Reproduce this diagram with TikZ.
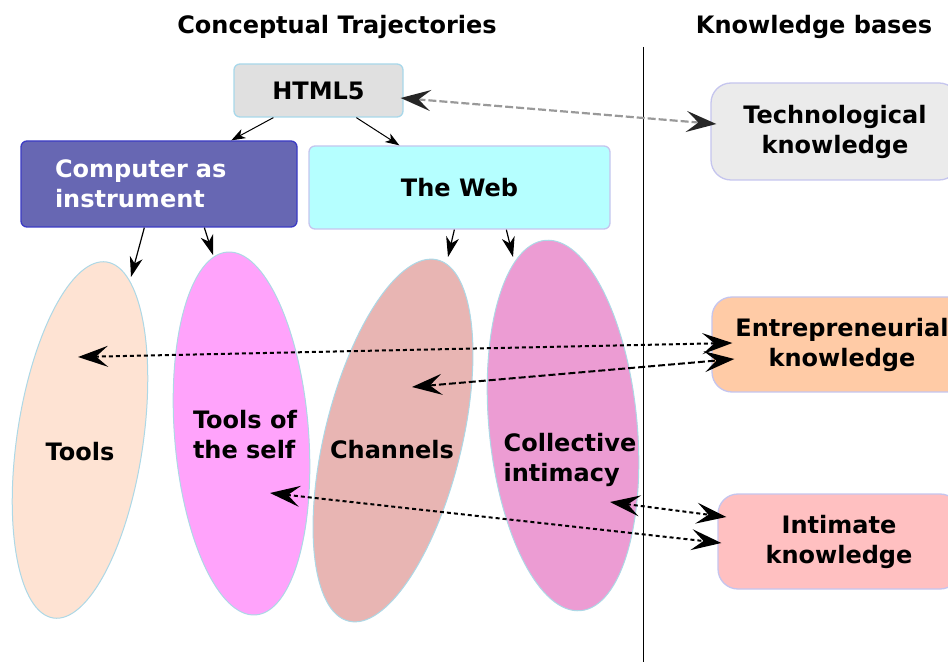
\documentclass[tikz,border=0pt]{standalone}
\usepackage{fontspec}
\setmainfont{DejaVu Sans}
\usetikzlibrary{arrows.meta,calc,shapes.geometric}
\definecolor{htmlfill}{HTML}{E0E0E0}
\definecolor{htmlborder}{HTML}{A8D8EA}
\definecolor{compfill}{HTML}{6767B3}
\definecolor{compborder}{HTML}{3B3BC4}
\definecolor{webfill}{HTML}{B5FFFF}
\definecolor{lavender}{HTML}{C5C5EE}
\definecolor{techfill}{HTML}{EBEBEB}
\definecolor{entrefill}{HTML}{FFCBA6}
\definecolor{intimfill}{HTML}{FFC0C1}
\definecolor{toolsfill}{HTML}{FEE3D3}
\definecolor{selffill}{HTML}{FFA3FB}
\definecolor{chanfill}{HTML}{E8B5B3}
\definecolor{collfill}{HTML}{EC9CD3}
\definecolor{ovalborder}{HTML}{ADD8E6}
\definecolor{grayarrow}{HTML}{999999}
\begin{document}
\begin{tikzpicture}[x=1pt,y=1pt,
  txt/.style={font=\fontsize{24}{30}\selectfont\bfseries},
  box/.style={draw, line width=1.3pt, rounded corners=6pt, txt, inner sep=0pt, align=center},
  kbox/.style={draw=lavender, line width=1.3pt, rounded corners=20pt, txt, inner sep=0pt, align=center},
  oval/.style={ellipse, draw=ovalborder, line width=1pt, inner sep=0pt},
  lbl/.style={txt, align=left, inner sep=0pt},
  solidarr/.style={-{Stealth[length=20pt,width=13pt,inset=6pt]}, line width=1.2pt},
  smallarr/.style={-{Stealth[length=14pt,width=10pt,inset=4pt]}, line width=1pt},
  kdash/.style={{Stealth[length=30pt,width=21pt,inset=12pt]}-{Stealth[length=30pt,width=21pt,inset=12pt]}, line width=2pt, dash pattern=on 4pt off 3pt},
  graydash/.style={{Stealth[length=30pt,width=21pt,inset=12pt,color=black!85]}-{Stealth[length=30pt,width=21pt,inset=12pt,color=black!85]}, draw=grayarrow, line width=2.2pt, dash pattern=on 8pt off 3pt}
]
\useasboundingbox (0,0) rectangle (948,662);
\clip (0,0) rectangle (948,662);

% titles
\node[txt, anchor=base] (title1) at (337,628) {Conceptual Trajectories};
\node[txt, anchor=base] (title2) at (814,628) {Knowledge bases};

% separator
\draw[line width=1pt] (643,615) -- (643,0);

% ellipses
\node[oval, fill=toolsfill, rotate=-8.5, minimum width=126pt, minimum height=360pt] (tools) at (80,222) {};
\node[oval, fill=selffill, rotate=4.5, minimum width=134pt, minimum height=364pt] (self) at (241.5,228.5) {};
\node[oval, fill=chanfill, rotate=-13.8, minimum width=137pt, minimum height=372pt] (chan) at (393,221.5) {};
\node[oval, fill=collfill, rotate=5.5, minimum width=148pt, minimum height=372pt] (coll) at (563,236.5) {};

\node[lbl] (toolsT) at (80,210) {Tools};
\node[lbl] (selfT) at (245,227) {Tools of\\the self};
\node[lbl] (chanT) at (392,212) {Channels};
\node[lbl] (collT) at (570,202) {Collective\\intimacy};

% boxes
\node[box, draw=htmlborder, fill=htmlfill, minimum width=169pt, minimum height=53pt] (html) at (318.5,571.5) {HTML5};
\node[box, draw=compborder, fill=compfill, text=white, minimum width=276pt, minimum height=86pt,
      text width=208pt, inner xsep=34pt, align=left] (comp) at (159,478) {Computer as\\instrument};
\node[box, draw=lavender, fill=webfill, minimum width=301pt, minimum height=83pt] (web) at (459.5,474.5) {The Web};

\node[kbox, fill=techfill, minimum width=248pt, minimum height=97pt] (tech) at (835,530.5) {Technological\\knowledge};
\node[kbox, fill=entrefill, minimum width=260pt, minimum height=95pt] (entre) at (842,317.5) {Entrepreneurial\\knowledge};
\node[kbox, fill=intimfill, minimum width=242pt, minimum height=95pt] (intim) at (839,120.5) {Intimate\\knowledge};

% solid arrows
\draw[smallarr] ($(html.south west)+(40,0)$) -- ($(comp.north west)+(211,0)$);
\draw[smallarr] ($(html.south west)+(123,0)$) -- ($(web.north west)+(91,0)$);
\draw[solidarr] ($(comp.south west)+(124,0)$) -- ($(tools.center)+(51,163)$);
\draw[solidarr] ($(comp.south west)+(184,0)$) -- ($(self.center)+(-28.5,178.5)$);
\draw[solidarr] ($(web.south west)+(146,0)$) -- ($(chan.center)+(55,183.5)$);
\draw[solidarr] ($(web.south west)+(198,0)$) -- ($(coll.center)+(-50,168.5)$);

% dashed arrows
\draw[graydash] ($(html.east)+(-3,-7.5)$) -- ($(tech.west)+(6,7.5)$);
\draw[kdash] ($(tools.center)+(-2,83)$) -- ($(entre.west)+(21,1.5)$);
\draw[kdash, dash pattern=on 7pt off 3pt] ($(chan.center)+(19,53.5)$) -- ($(entre.west)+(23,-14.5)$);
\draw[kdash] ($(self.center)+(28.5,-59.5)$) -- ($(intim.west)+(4,-1.5)$);
\draw[kdash] ($(coll.center)+(47,-76.5)$) -- ($(intim.west)+(9,24.5)$);
\end{tikzpicture}
\end{document}
